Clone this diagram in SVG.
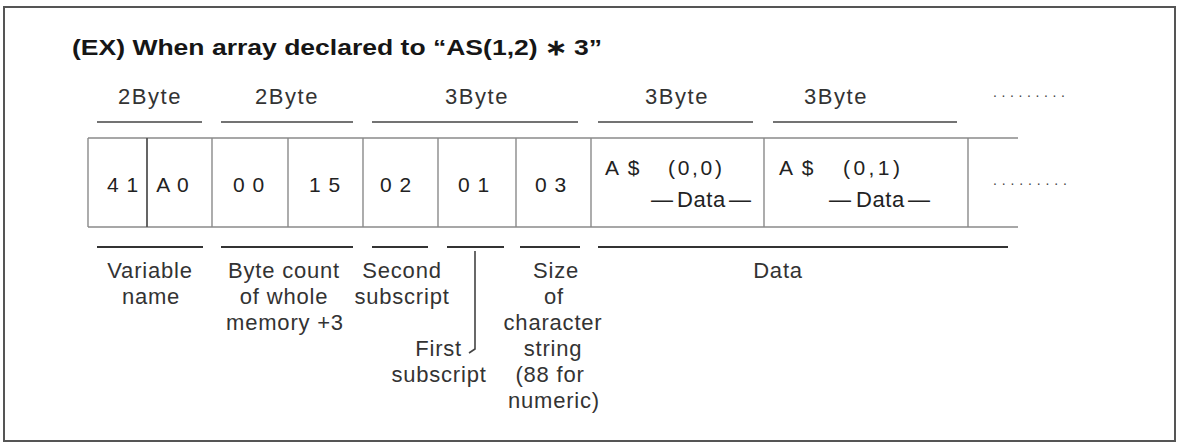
<svg xmlns="http://www.w3.org/2000/svg" width="1180" height="445" viewBox="0 0 1180 445">
<style>
text{font-family:"Liberation Sans",Arial,sans-serif;fill:#222}
.t{font-size:22px;font-weight:bold;fill:#161616}
.b{font-size:22px;letter-spacing:1.5px;text-anchor:middle;fill:#333}
.c{font-size:21px;text-anchor:middle;letter-spacing:1px}
.d{font-size:21px}
.dt{font-size:22px;letter-spacing:0.6px}
.l{font-size:22px;letter-spacing:0.8px;text-anchor:middle;fill:#333}
.ov{stroke:#444;stroke-width:1.6}
.un{stroke:#333;stroke-width:2}
.g{stroke:#8a8a8a;stroke-width:1.4;fill:none}
.dots{font-size:14px;fill:#444}
</style>
<rect width="1180" height="445" fill="#fff"/>
<rect x="4" y="7" width="1171" height="434" fill="#fff" stroke="#555" stroke-width="2"/>
<g id="title"><text class="t" x="72" y="55" textLength="530" lengthAdjust="spacingAndGlyphs">(EX) When array declared to “AS(1,2) ∗ 3”</text></g>
<g id="byte-labels">
<text class="b" x="150" y="104">2Byte</text>
<text class="b" x="287" y="104">2Byte</text>
<text class="b" x="477" y="104">3Byte</text>
<text class="b" x="677" y="104">3Byte</text>
<text class="b" x="836" y="104">3Byte</text>
<text class="dots" x="993" y="97" textLength="72" lengthAdjust="spacing">.........</text>
<line class="ov" x1="97" y1="122" x2="202" y2="122"/>
<line class="ov" x1="221" y1="122" x2="353" y2="122"/>
<line class="ov" x1="372" y1="122" x2="578" y2="122"/>
<line class="ov" x1="598" y1="122" x2="753" y2="122"/>
<line class="ov" x1="773" y1="122" x2="957" y2="122"/>
</g>
<g id="table">
<path class="g" d="M88 138H1018M88 227H1018M88 138V227M212 138V227M288 138V227M363 138V227M438 138V227M516 138V227M591 138V227M764 138V227M968 138V227"/>
<path d="M147 138V227" stroke="#555" stroke-width="1.8"/>
</g>
<g id="cell-name">
<text class="c" x="123" y="192">4 1</text>
<text class="c" x="173" y="192">A 0</text>
</g>
<g id="cell-count">
<text class="c" x="249" y="192">0 0</text>
<text class="c" x="325" y="192">1 5</text>
</g>
<g id="cell-subscripts">
<text class="c" x="396" y="192">0 2</text>
<text class="c" x="474" y="192">0 1</text>
<text class="c" x="551" y="192">0 3</text>
</g>
<g id="cell-data-00">
<text class="d" x="605" y="175" letter-spacing="2">A $</text>
<text class="d" x="668" y="175" textLength="54" lengthAdjust="spacing">(0,0)</text>
<text class="dt" y="207"><tspan x="651">—</tspan><tspan x="677">Data</tspan><tspan x="729">—</tspan></text>
</g>
<g id="cell-data-01">
<text class="d" x="779" y="175" letter-spacing="2">A $</text>
<text class="d" x="843" y="175" textLength="57" lengthAdjust="spacing">(0,1)</text>
<text class="dt" y="207"><tspan x="829">—</tspan><tspan x="856">Data</tspan><tspan x="908">—</tspan></text>
</g>
<g id="cell-more">
<text class="dots" x="993" y="185" textLength="74" lengthAdjust="spacing">.........</text>
</g>
<g id="underlines">
<line class="un" x1="97" y1="247" x2="203" y2="247"/>
<line class="un" x1="221" y1="247" x2="353" y2="247"/>
<line class="un" x1="372" y1="247" x2="428" y2="247"/>
<line class="un" x1="447" y1="247" x2="504" y2="247"/>
<line class="un" x1="520" y1="247" x2="580" y2="247"/>
<line class="un" x1="598" y1="247" x2="1008" y2="247"/>
</g>
<g id="labels">
<text class="l" x="150" y="278">Variable</text>
<text class="l" x="151" y="304">name</text>
<text class="l" x="284" y="278">Byte count</text>
<text class="l" x="284" y="304">of whole</text>
<text class="l" x="285" y="330">memory +3</text>
<text class="l" x="402" y="278">Second</text>
<text class="l" x="402" y="304">subscript</text>
<text class="l" x="462" y="356" style="text-anchor:end">First</text>
<text class="l" x="439" y="382">subscript</text>
<text class="l" x="556" y="278">Size</text>
<text class="l" x="554" y="304">of</text>
<text class="l" x="553" y="330">character</text>
<text class="l" x="553" y="356">string</text>
<text class="l" x="550" y="382">(88 for</text>
<text class="l" x="554" y="408">numeric)</text>
<text class="l" x="778" y="278">Data</text>
</g>
<g id="connectors">
<path d="M475 251V349L469 353" fill="none" stroke="#444" stroke-width="1.6"/>
</g>
</svg>
